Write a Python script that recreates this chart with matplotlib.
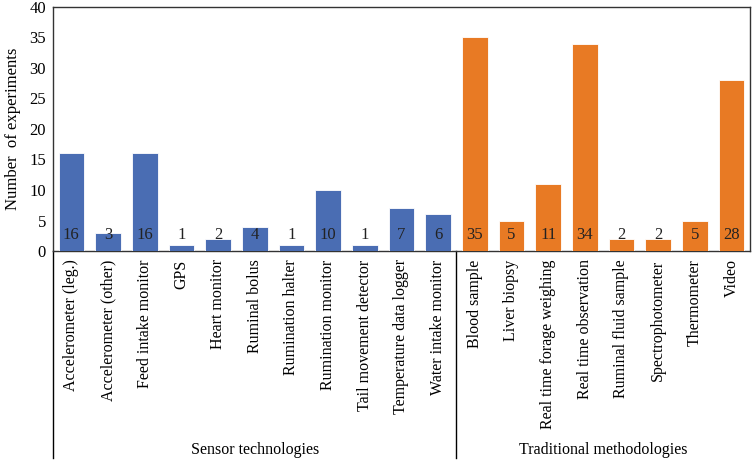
import matplotlib.pyplot as plt
from matplotlib.transforms import blended_transform_factory

plt.rcParams["font.family"] = ["Liberation Serif", "DejaVu Serif"]

sensor_labels = [
    "Accelerometer (leg.)", "Accelerometer (other)", "Feed intake monitor",
    "GPS", "Heart monitor", "Ruminal bolus", "Rumination halter",
    "Rumination monitor", "Tail movement detector",
    "Temperature data logger", "Water intake monitor",
]
sensor_counts = [16, 3, 16, 1, 2, 4, 1, 10, 1, 7, 6]

trad_labels = [
    "Blood sample", "Liver biopsy", "Real time forage weighing",
    "Real time observation", "Ruminal fluid sample", "Spectrophotometer",
    "Thermometer", "Video",
]
trad_counts = [35, 5, 11, 34, 2, 2, 5, 28]

group_names = ["Sensor technologies", "Traditional methodologies"]

BLUE = "#4A6DB3"
ORANGE = "#E87A24"

labels = sensor_labels + trad_labels
counts = sensor_counts + trad_counts
colors = [BLUE] * len(sensor_counts) + [ORANGE] * len(trad_counts)
xs = list(range(len(labels)))

fig = plt.figure(figsize=(7.52, 4.61), dpi=100)
ax = fig.add_axes([0.0705, 0.4555, 0.9265, 0.5295])

ax.bar(xs, counts, width=0.7, color=colors, edgecolor="white", linewidth=0.6, zorder=3)
for x, c in zip(xs, counts):
    ax.text(x, 2.6, str(c), ha="center", va="center", fontsize=12,
            color="#222222", zorder=4)

ax.set_xlim(-0.5, len(labels) - 0.5)
ax.set_ylim(0, 40)
ax.set_yticks(range(0, 41, 5))
ax.set_xticks(xs)
ax.set_xticklabels(labels, rotation=90, fontsize=11.5)
ax.tick_params(axis="both", length=0)
ax.tick_params(axis="y", labelsize=12, pad=5)
ax.tick_params(axis="x", pad=6)
ax.set_ylabel("Number  of experiments", fontsize=12, labelpad=6)
for s in ax.spines.values():
    s.set_linewidth(1.0)
    s.set_color("#333333")

# group separators below the axis
tr = blended_transform_factory(ax.transData, ax.transAxes)
n_s = len(sensor_counts)
for xv in (-0.5, n_s - 0.5):
    ax.plot([xv, xv], [0, -0.85], transform=tr, color="black", lw=1.0, clip_on=False)
ax.text((n_s - 1) / 2, -0.815, group_names[0], transform=tr, ha="center", va="center", fontsize=11.5)
ax.text(n_s + (len(trad_counts) - 1) / 2, -0.815, group_names[1], transform=tr,
        ha="center", va="center", fontsize=11.5)

fig.savefig("out.png", dpi=100)
